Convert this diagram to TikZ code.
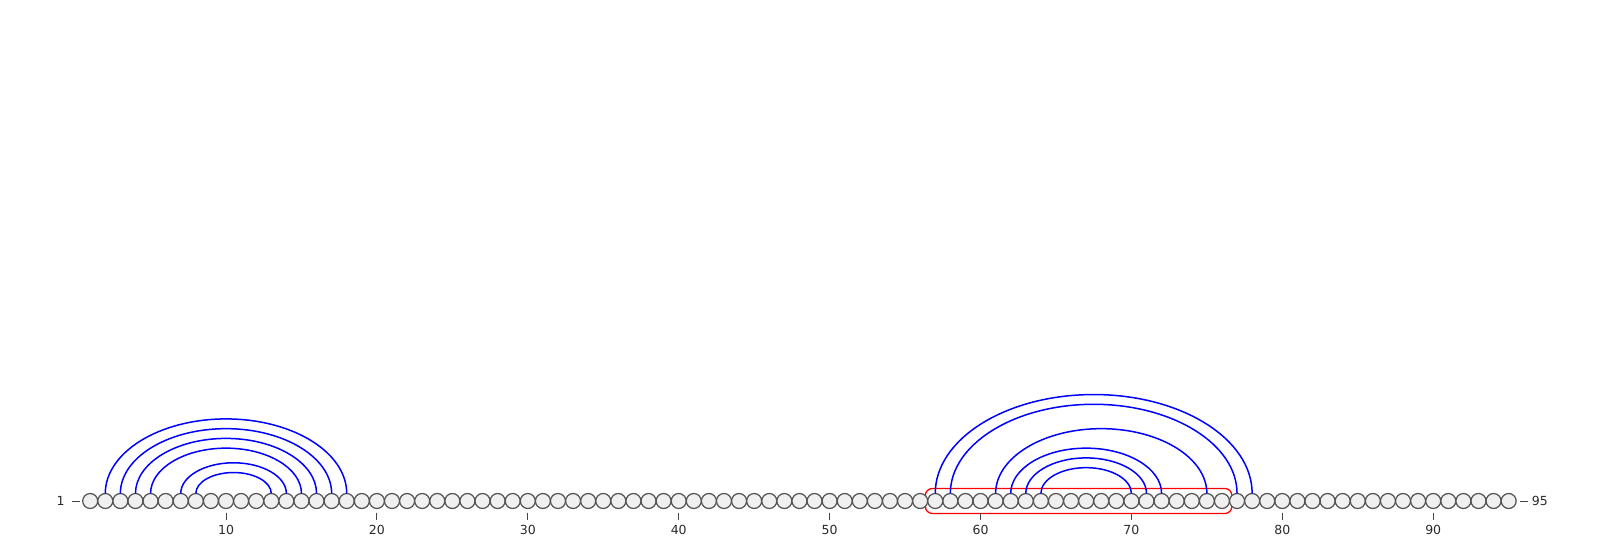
\documentclass[tikz,border=0pt]{standalone}
\usepackage{fontspec}
\setmainfont{DejaVu Sans}
\usetikzlibrary{fit,backgrounds}
\definecolor{beadfill}{HTML}{F0F0F0}
\definecolor{beadline}{HTML}{555555}
\definecolor{txt}{HTML}{2A2A2A}
\definecolor{tickc}{HTML}{444444}
\tikzset{
  bead/.style={circle,draw=beadline,fill=beadfill,line width=1.25pt,minimum size=15pt,inner sep=0pt,outer sep=0pt},
  bond/.style={draw=blue,line width=1.5pt},
  redbox/.style={draw=red,line width=1.3pt,rounded corners=7pt,inner xsep=2.4pt,inner ysep=5pt},
  tickmark/.style={draw=tickc,line width=0.9pt},
  ticklabel/.style={text=txt,font=\fontsize{12.5}{15}\selectfont,inner sep=0pt}
}
\begin{document}
\begin{tikzpicture}[x=1pt,y=1pt]
\useasboundingbox (0,0) rectangle (1600,536);
% beads
\foreach \i in {1,...,95}{
  \node[bead] (n\i) at ({90.2+(\i-1)*15.09},35) {};
}
% highlighted segment
\begin{scope}[on background layer]
  \node[redbox,fit=(n57)(n76)] (seg) {};
\end{scope}
% bonds
\foreach \a/\b in {2/18,3/17,4/16,5/15,7/14,8/13,57/78,58/77,61/75,62/72,63/71,64/70}{
  \pgfmathsetmacro{\hw}{(\b-\a)*15.09/2}
  \pgfmathsetmacro{\hh}{4.874*(\b-\a)-3.4}
  \draw[bond] (n\a.north) arc[start angle=180,end angle=0,x radius=\hw,y radius=\hh];
}
% axis ticks
\foreach \k in {10,20,...,90}{
  \coordinate (t\k a) at ([yshift=-4pt]n\k.south);
  \coordinate (t\k b) at ([yshift=-11pt]n\k.south);
  \draw[tickmark] (t\k a) -- (t\k b);
  \node[ticklabel] (l\k) at ([yshift=-21.8pt]n\k.south) {\k};
}
% end labels
\coordinate (d1a) at ([xshift=-11pt]n1.west);
\coordinate (d1b) at ([xshift=-2.7pt]n1.west);
\draw[tickmark] (d1a) -- (d1b);
\node[ticklabel,anchor=east] (lfirst) at ([xshift=-7pt]d1a) {1};
\coordinate (d95a) at ([xshift=3.8pt]n95.east);
\coordinate (d95b) at ([xshift=11.5pt]n95.east);
\draw[tickmark] (d95a) -- (d95b);
\node[ticklabel,anchor=west] (llast) at ([xshift=4pt]d95b) {95};
\end{tikzpicture}
\end{document}
